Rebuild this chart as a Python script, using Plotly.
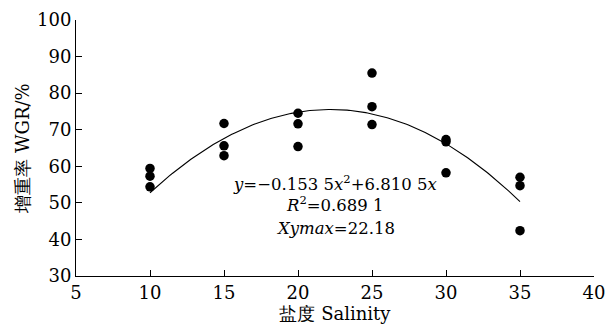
import numpy as np
import plotly.graph_objects as go

salinity = [10, 10, 10, 15, 15, 15, 20, 20, 20, 25, 25, 25, 30, 30, 30, 35, 35, 35]
wgr = [59.4, 57.3, 54.4, 71.7, 65.6, 62.9, 74.5, 71.6, 65.4, 85.5, 76.3, 71.4,
       67.3, 66.7, 58.2, 57.0, 54.7, 42.4]
coef_a = -0.1535
coef_b = 6.8105
fit_range = [10, 35]
eq_lines = ["<i>y</i>=\u22120.153 5<i>x</i><sup>2</sup>+6.810 5<i>x</i>",
            "<i>R</i><sup>2</sup>=0.689 1",
            "<i>Xymax</i>=22.18"]

FONT = "DejaVu Serif"

xf = np.linspace(fit_range[0], fit_range[1], 200)
yf = coef_a * xf**2 + coef_b * xf

fig = go.Figure()
fig.add_trace(go.Scatter(x=xf, y=yf, mode="lines",
                         line=dict(color="black", width=1.1), hoverinfo="skip"))
fig.add_trace(go.Scatter(x=salinity, y=wgr, mode="markers",
                         marker=dict(color="black", size=9.5)))

ann_y = [55.4, 49.7, 42.9]
for t, yy in zip(eq_lines, ann_y):
    fig.add_annotation(x=22.5, y=yy, text=t, showarrow=False,
                       xanchor="center", yanchor="middle",
                       font=dict(family=FONT, size=16.5, color="black"))

axis_common = dict(showline=True, linecolor="black", linewidth=1,
                   ticks="inside", ticklen=6, tickcolor="black", tickwidth=1,
                   showgrid=False, zeroline=False, automargin=False,
                   ticklabeloverflow="allow",
                   tickfont=dict(family=FONT, size=18, color="black"))

fig.update_layout(
    width=605, height=329,
    margin=dict(l=76, r=11, t=20, b=53),
    plot_bgcolor="white", paper_bgcolor="white",
    showlegend=False,
    font=dict(family=FONT, color="black"),
    xaxis=dict(range=[5, 40], dtick=5, tick0=5,
               title=dict(text="盐度 Salinity", standoff=4,
                          font=dict(family=FONT, size=18, color="black")),
               **axis_common),
    yaxis=dict(range=[30, 100], dtick=10, tick0=30,
               title=dict(text="增重率 WGR/%", standoff=2,
                          font=dict(family=FONT, size=18, color="black")),
               **axis_common),
)

fig.write_html("out.html", config={"displayModeBar": False},
               post_script="document.body.style.margin='0';")
